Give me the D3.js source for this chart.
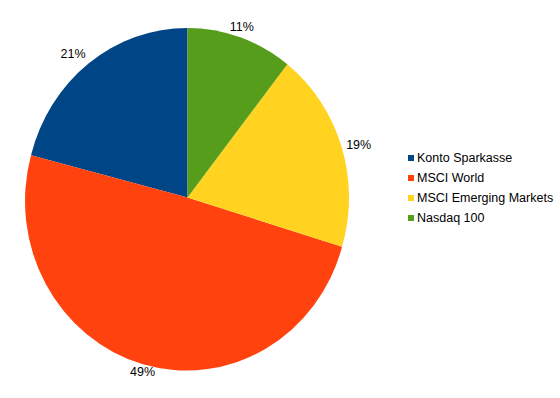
<!DOCTYPE html>
<html><head><meta charset="utf-8">
<script src="https://cdn.jsdelivr.net/npm/d3@7"></script>
<style>html,body{margin:0;padding:0;background:#fff;}svg{display:block;font-family:"Liberation Sans",Arial,sans-serif;}</style>
</head><body>
<script>
const categories = ["Konto Sparkasse", "MSCI World", "MSCI Emerging Markets", "Nasdaq 100"];
const values = [21.0, 49.3, 19.1, 10.6];
const colors = ["#004586", "#ff420e", "#ffd320", "#579d1c"];

const W = 560, H = 398;
const cx = 187.5, cy = 197.5, rx = 161.5, ry = 169.5;
const svg = d3.select("body").append("svg").attr("width", W).attr("height", H);

const data = categories.map((c, i) => ({name: c, value: values[i], color: colors[i]}));
// Counter-clockwise from 12 o'clock
const pie = d3.pie().value(d => d.value).sort(null).startAngle(0).endAngle(-2 * Math.PI);
const arcs = pie(data);
const arc = d3.arc().innerRadius(0).outerRadius(1);

const g = svg.append("g").attr("transform", `translate(${cx},${cy}) scale(${rx},${ry})`);
g.selectAll("path").data(arcs).join("path")
  .attr("d", arc).attr("fill", d => d.data.color);

const total = d3.sum(values);
const fmt = v => Math.round(v / total * 100) + "%";
const lf = 1.03;
arcs.forEach(a => {
  const m = (a.startAngle + a.endAngle) / 2;
  const s = Math.sin(m), c = Math.cos(m);
  const px = cx + lf * rx * s, py = cy - lf * ry * c;
  let anchor = "middle";
  if (Math.abs(s) > 0.4) anchor = s > 0 ? "start" : "end";
  let dy = 0;
  if (Math.abs(c) > 0.4) dy = c > 0 ? -6 : 6;
  svg.append("text").attr("x", px).attr("y", py + dy)
    .attr("text-anchor", anchor).attr("dominant-baseline", "central")
    .attr("font-size", 12.5).attr("fill", "#000").text(fmt(a.data.value));
});

const leg = svg.append("g");
data.forEach((d, i) => {
  const y = 158 + i * 20;
  leg.append("rect").attr("x", 408).attr("y", y - 3).attr("width", 6).attr("height", 6).attr("fill", d.color);
  leg.append("text").attr("x", 417).attr("y", y).attr("dominant-baseline", "central")
    .attr("font-size", 12.5).attr("fill", "#000").text(d.name);
});
</script>
</body></html>
